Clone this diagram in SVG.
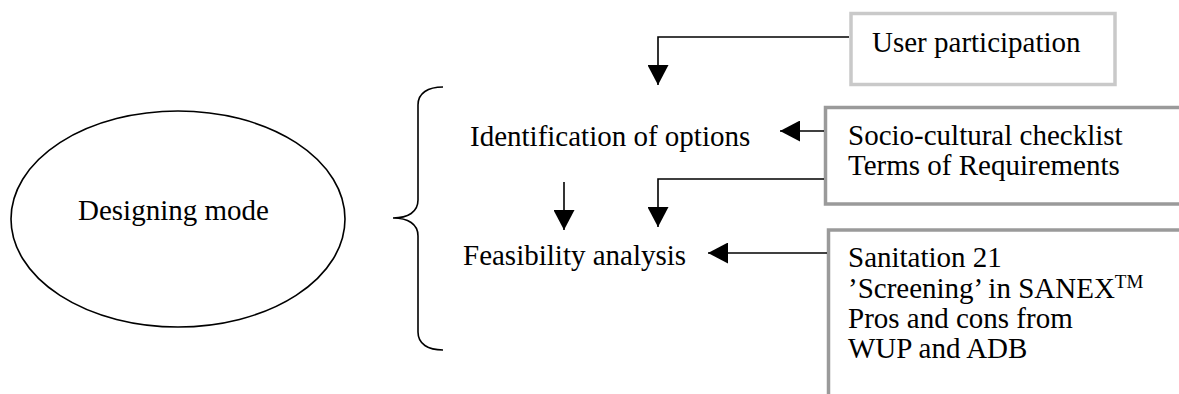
<svg xmlns="http://www.w3.org/2000/svg" width="1179" height="394" viewBox="0 0 1179 394">
  <style>
    text { font-family: "Liberation Serif", "Times New Roman", serif; font-size: 29px; fill: #000; }
    .ln { fill: none; stroke: #000; stroke-width: 1.6; }
    .boxL { fill: #fff; stroke: #c9c9c9; stroke-width: 3.5; }
    .boxD { fill: #fff; stroke: #9a9a9a; stroke-width: 3.5; }
    .sup { font-size: 19px; }
  </style>
  <defs>
    <marker id="ah" markerUnits="userSpaceOnUse" markerWidth="20" markerHeight="21" refX="20" refY="10.5" orient="auto">
      <path d="M0,0 L20,10.5 L0,21 z" fill="#000"/>
    </marker>
  </defs>
  <rect width="1179" height="394" fill="#fff"/>

  <g id="designing-mode">
    <ellipse cx="178" cy="219" rx="167" ry="108" class="ln"/>
    <text x="78" y="220">Designing mode</text>
  </g>

  <g id="brace">
    <path class="ln" d="M443,87 C428,87 418,93 418,105 L418,200 C418,212 408,218 393,218 C408,218 418,224 418,236 L418,332 C418,344 428,350 443,350"/>
  </g>

  <g id="identification">
    <text x="470" y="146">Identification of options</text>
  </g>

  <g id="feasibility">
    <text x="463" y="265">Feasibility analysis</text>
  </g>

  <g id="user-participation">
    <rect x="851" y="13.5" width="264" height="71" class="boxL"/>
    <text x="872" y="52">User participation</text>
  </g>

  <g id="checklist">
    <rect x="825.5" y="107.5" width="380" height="96.5" class="boxD"/>
    <text x="848" y="145">Socio-cultural checklist</text>
    <text x="848" y="175">Terms of Requirements</text>
  </g>

  <g id="sanitation">
    <rect x="828.5" y="230" width="380" height="200" class="boxD"/>
    <text x="848" y="267">Sanitation 21</text>
    <text x="848" y="298">’Screening’ in SANEX<tspan class="sup" dy="-10">TM</tspan></text>
    <text x="848" y="328">Pros and cons from</text>
    <text x="848" y="358">WUP and ADB</text>
  </g>

  <g id="connectors">
    <polyline class="ln" points="849,37 658,37 658,85" marker-end="url(#ah)"/>
    <polyline class="ln" points="824,131 780,131" marker-end="url(#ah)"/>
    <polyline class="ln" points="824,179 658,179 658,227" marker-end="url(#ah)"/>
    <polyline class="ln" points="827,253 708,253" marker-end="url(#ah)"/>
    <polyline class="ln" points="564,182 564,230" marker-end="url(#ah)"/>
  </g>
</svg>
